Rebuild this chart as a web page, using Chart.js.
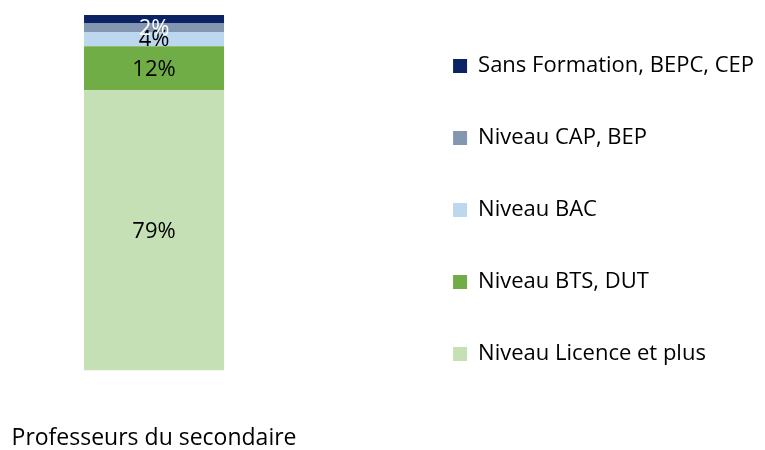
<!DOCTYPE html>
<html>
<head>
<meta charset="utf-8">
<script src="https://cdn.jsdelivr.net/npm/chart.js@4.4.0/dist/chart.umd.min.js"></script>
<style>
  html, body { margin: 0; padding: 0; background: #fff; }
  #wrap { width: 765px; height: 450px; }
</style>
</head>
<body>
<div id="wrap"><canvas id="chart" width="765" height="450"></canvas></div>
<script>
// Données (en %)
const categories = ["Professeurs du secondaire"];
const seriesNames = ["Niveau Licence et plus", "Niveau BTS, DUT", "Niveau BAC", "Niveau CAP, BEP", "Sans Formation, BEPC, CEP"];
const licence = [78.8];
const btsDut = [12.4];
const bac = [4.0];
const capBep = [2.4];
const sansFormation = [2.4];
const seriesColors = ["#c5e0b4", "#70ad47", "#bdd7ee", "#8497b0", "#0c2363"];
const labelColors = ["#000", "#000", "#000", "#fff", null]; // null = étiquette masquée

const FONT = "'Open Sans', sans-serif";

// Étiquettes de valeurs au centre des segments
const valueLabels = {
  id: "valueLabels",
  afterDatasetsDraw(chart) {
    const ctx = chart.ctx;
    ctx.save();
    ctx.font = "22px " + FONT;
    ctx.textAlign = "center";
    ctx.textBaseline = "middle";
    chart.data.datasets.forEach((ds, i) => {
      if (!labelColors[i]) return;
      chart.getDatasetMeta(i).data.forEach((bar, j) => {
        const v = ds.data[j];
        ctx.fillStyle = labelColors[i];
        ctx.fillText(Math.round(v) + "%", bar.x, (bar.y + bar.base) / 2 + 1);
      });
    });
    ctx.restore();
  }
};

const allData = [licence, btsDut, bac, capBep, sansFormation];

new Chart(document.getElementById("chart"), {
  type: "bar",
  data: {
    labels: categories,
    datasets: seriesNames.map((name, i) => ({
      label: name,
      data: allData[i],
      backgroundColor: seriesColors[i],
      borderWidth: 0,
      barPercentage: 1,
      categoryPercentage: 0.4545
    }))
  },
  options: {
    responsive: false,
    animation: false,
    layout: { padding: { top: 5, left: 0, right: 1, bottom: 0 } },
    plugins: {
      tooltip: { enabled: false },
      legend: {
        position: "right",
        align: "start",
        reverse: true,
        maxWidth: 420,
        labels: {
          boxWidth: 14,
          boxHeight: 14,
          padding: 50,
          color: "#000",
          font: { family: FONT, size: 22 }
        }
      }
    },
    scales: {
      x: {
        stacked: true,
        grid: { color: "transparent", tickLength: 56 },
        border: { display: false },
        ticks: { color: "#000", padding: -2, maxRotation: 0, minRotation: 0, font: { family: FONT, size: 23 } }
      },
      y: {
        stacked: true,
        position: "right",
        min: 0,
        max: 102.8,
        grid: { display: false },
        border: { display: false },
        ticks: { display: false },
        // espace vide entre la barre et la légende
        afterFit: (scale) => { scale.width = 95; }
      }
    }
  },
  plugins: [valueLabels]
});
</script>
</body>
</html>
